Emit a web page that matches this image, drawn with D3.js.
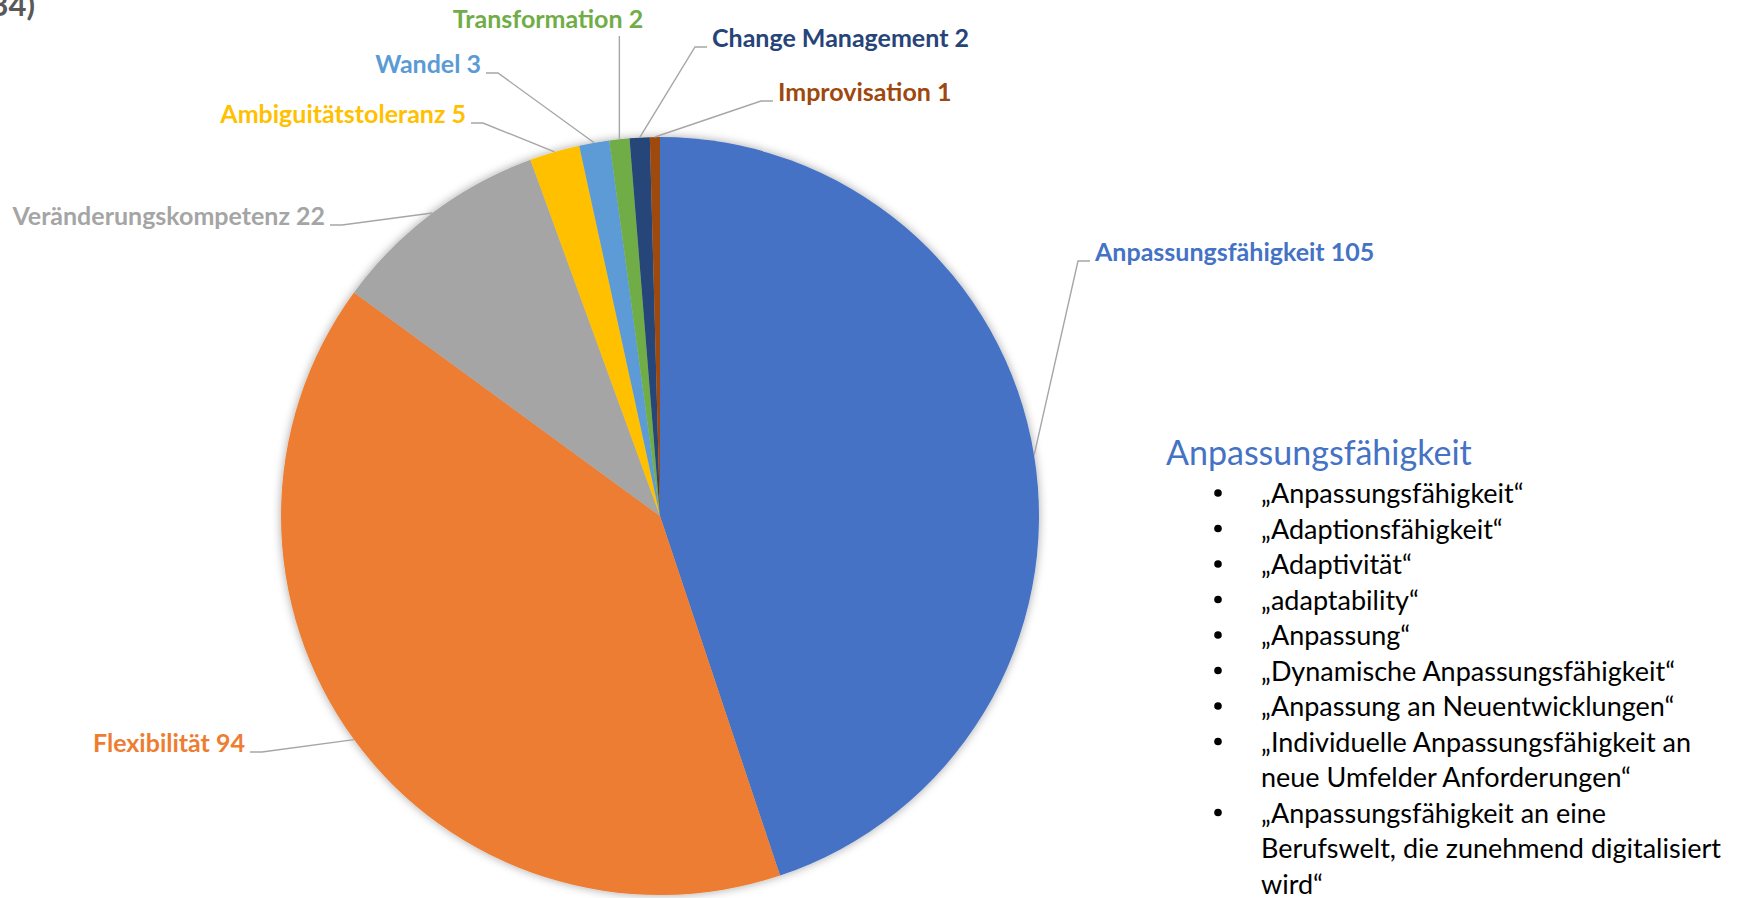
<!DOCTYPE html>
<html lang="de">
<head>
    <meta charset="UTF-8">
    <title>Anpassungsfähigkeit – Nennungen</title>
    <script src="https://cdnjs.cloudflare.com/ajax/libs/d3/7.8.5/d3.min.js"></script>
    <style>
        body {
            margin: 0;
            background: #ffffff;
            overflow: hidden;
        }
        svg text {
            font-family: Lato, "Open Sans", sans-serif;
        }
        .slice-label {
            font-weight: 700;
            font-size: 25px;
        }
        .leader {
            fill: none;
            stroke: #a6a6a6;
            stroke-width: 1.4px;
        }
    </style>
</head>
<body>
    <svg id="chart" width="1753" height="898"></svg>

    <script>
        // Categories and counts (n = 234)
        const categories = [
            "Anpassungsfähigkeit", "Flexibilität", "Veränderungskompetenz", "Ambiguitätstoleranz",
            "Wandel", "Transformation", "Change Management", "Improvisation"
        ];
        const counts = [105, 94, 22, 5, 3, 2, 2, 1];
        const sliceColors = ["#4472c4", "#ed7d31", "#a5a5a5", "#ffc000", "#5b9bd5", "#70ad47", "#264478", "#9e480e"];

        // Text box on the right
        const boxTitle = "Anpassungsfähigkeit";
        const boxItems = [
            ["„Anpassungsfähigkeit“"],
            ["„Adaptionsfähigkeit“"],
            ["„Adaptivität“"],
            ["„adaptability“"],
            ["„Anpassung“"],
            ["„Dynamische Anpassungsfähigkeit“"],
            ["„Anpassung an Neuentwicklungen“"],
            ["„Individuelle Anpassungsfähigkeit an", "neue Umfelder Anforderungen“"],
            ["„Anpassungsfähigkeit an eine", "Berufswelt, die zunehmend digitalisiert", "wird“"]
        ];

        // where each data label sits (text anchor point, baseline)
        const labelLayout = [
            { anchor: "start", x: 1095, y: 261 },
            { anchor: "end", x: 245, y: 752 },
            { anchor: "end", x: 325, y: 225 },
            { anchor: "end", x: 466, y: 123 },
            { anchor: "end", x: 481, y: 73 },
            { anchor: "middle", x: 548, y: 28 },
            { anchor: "start", x: 712, y: 47 },
            { anchor: "start", x: 778, y: 101 }
        ];

        const cx = 660, cy = 516, radius = 379;

        const svg = d3.select("#chart");

        // soft shadow round the pie
        const defs = svg.append("defs");
        const f = defs.append("filter").attr("id", "glow")
            .attr("x", "-10%").attr("y", "-10%").attr("width", "120%").attr("height", "120%");
        f.append("feDropShadow")
            .attr("dx", 0).attr("dy", 0)
            .attr("stdDeviation", 5)
            .attr("flood-color", "#000")
            .attr("flood-opacity", 0.35);

        // cut-off title in the top-left corner
        svg.append("text")
            .attr("x", 35).attr("y", 16)
            .attr("text-anchor", "end")
            .attr("fill", "#595959")
            .attr("font-weight", 700)
            .attr("font-size", 31)
            .text("Nennungen (n=234)");

        const pie = d3.pie().sort(null).value(d => d);
        const arcs = pie(counts);

        const arc = d3.arc().innerRadius(0).outerRadius(radius);
        const edgeArc = d3.arc().innerRadius(radius).outerRadius(radius);

        const g = svg.append("g").attr("transform", `translate(${cx},${cy})`);

        g.append("g")
            .attr("filter", "url(#glow)")
            .selectAll("path")
            .data(arcs)
            .join("path")
            .attr("d", arc)
            .attr("fill", (d, i) => sliceColors[i]);

        // leader lines + labels
        arcs.forEach((d, i) => {
            const lay = labelLayout[i];
            const [ex, ey] = edgeArc.centroid(d);
            const px = cx + ex, py = cy + ey;
            let pts;
            if (lay.anchor === "end") {
                pts = [[lay.x + 5, lay.y], [lay.x + 17, lay.y], [px, py]];
            } else if (lay.anchor === "start") {
                pts = [[lay.x - 5, lay.y], [lay.x - 17, lay.y], [px, py]];
            } else {
                pts = [[px, lay.y + 8], [px, py]];
            }
            svg.append("path")
                .attr("class", "leader")
                .attr("d", d3.line()(pts));

            svg.append("text")
                .attr("class", "slice-label")
                .attr("x", lay.x)
                .attr("y", lay.y)
                .attr("text-anchor", lay.anchor)
                .attr("fill", sliceColors[i])
                .text(categories[i] + " " + counts[i]);
        });

        // right hand text box
        const box = svg.append("g");
        box.append("text")
            .attr("x", 1166).attr("y", 465)
            .attr("fill", "#4472c4")
            .attr("font-size", 34)
            .text(boxTitle);

        const lineH = 35.5;
        let row = 0;
        boxItems.forEach(lines => {
            const y0 = 503 + row * lineH;
            box.append("circle")
                .attr("cx", 1218).attr("cy", y0 - 10)
                .attr("r", 3.8)
                .attr("fill", "#000");
            lines.forEach((t, k) => {
                box.append("text")
                    .attr("x", 1261)
                    .attr("y", y0 + k * lineH)
                    .attr("fill", "#000")
                    .attr("font-size", 27)
                    .text(t);
            });
            row += lines.length;
        });
    </script>
</body>
</html>
